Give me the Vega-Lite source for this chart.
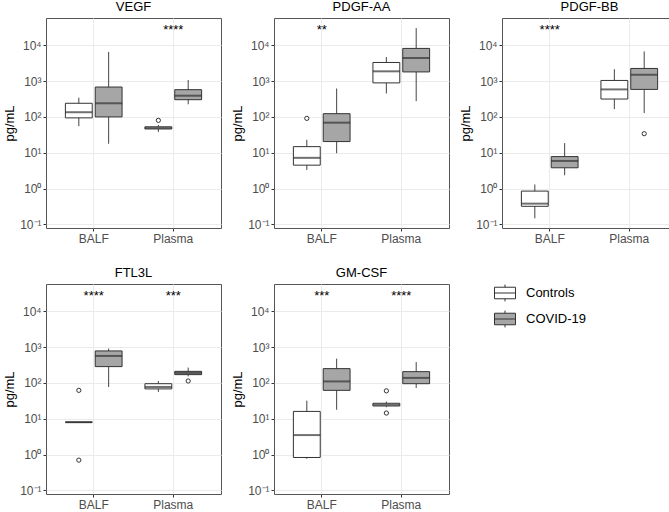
{
  "$schema": "https://vega.github.io/schema/vega-lite/v6.json",
  "padding": {"left": 3, "top": 0, "right": 1, "bottom": 2},
  "data": {"values": [
    {"kind":"box","panel":"VEGF","sample":"BALF","group":"Controls","lo":55,"q1":94,"med":135,"q3":240,"hi":344},
    {"kind":"box","panel":"VEGF","sample":"BALF","group":"COVID-19","lo":17.8,"q1":100,"med":240,"q3":681,"hi":6500},
    {"kind":"box","panel":"VEGF","sample":"Plasma","group":"Controls","lo":38,"q1":46,"med":49,"q3":53,"hi":60},
    {"kind":"box","panel":"VEGF","sample":"Plasma","group":"COVID-19","lo":225,"q1":302,"med":390,"q3":575,"hi":1070},
    {"kind":"out","panel":"VEGF","sample":"Plasma","group":"Controls","value":80},
    {"kind":"star","panel":"VEGF","sample":"Plasma","label":"****"},

    {"kind":"box","panel":"PDGF-AA","sample":"BALF","group":"Controls","lo":3.3,"q1":4.5,"med":7.2,"q3":14.8,"hi":23},
    {"kind":"box","panel":"PDGF-AA","sample":"BALF","group":"COVID-19","lo":9.7,"q1":20.5,"med":69,"q3":123,"hi":620},
    {"kind":"box","panel":"PDGF-AA","sample":"Plasma","group":"Controls","lo":450,"q1":890,"med":1870,"q3":3300,"hi":4700},
    {"kind":"box","panel":"PDGF-AA","sample":"Plasma","group":"COVID-19","lo":275,"q1":1800,"med":4400,"q3":8150,"hi":30000},
    {"kind":"out","panel":"PDGF-AA","sample":"BALF","group":"Controls","value":91},
    {"kind":"star","panel":"PDGF-AA","sample":"BALF","label":"**"},

    {"kind":"box","panel":"PDGF-BB","sample":"BALF","group":"Controls","lo":0.148,"q1":0.32,"med":0.38,"q3":0.85,"hi":1.3},
    {"kind":"box","panel":"PDGF-BB","sample":"BALF","group":"COVID-19","lo":2.35,"q1":3.8,"med":5.9,"q3":7.8,"hi":18.6},
    {"kind":"box","panel":"PDGF-BB","sample":"Plasma","group":"Controls","lo":165,"q1":315,"med":585,"q3":1040,"hi":2140},
    {"kind":"box","panel":"PDGF-BB","sample":"Plasma","group":"COVID-19","lo":128,"q1":585,"med":1500,"q3":2250,"hi":6700},
    {"kind":"out","panel":"PDGF-BB","sample":"Plasma","group":"COVID-19","value":34},
    {"kind":"star","panel":"PDGF-BB","sample":"BALF","label":"****"},

    {"kind":"box","panel":"FTL3L","sample":"BALF","group":"Controls","lo":8,"q1":8,"med":8,"q3":8,"hi":8},
    {"kind":"box","panel":"FTL3L","sample":"BALF","group":"COVID-19","lo":77,"q1":285,"med":565,"q3":780,"hi":910},
    {"kind":"box","panel":"FTL3L","sample":"Plasma","group":"Controls","lo":56,"q1":68,"med":77,"q3":95,"hi":113},
    {"kind":"box","panel":"FTL3L","sample":"Plasma","group":"COVID-19","lo":152,"q1":170,"med":190,"q3":210,"hi":267},
    {"kind":"out","panel":"FTL3L","sample":"BALF","group":"Controls","value":62},
    {"kind":"out","panel":"FTL3L","sample":"BALF","group":"Controls","value":0.7},
    {"kind":"out","panel":"FTL3L","sample":"Plasma","group":"COVID-19","value":113},
    {"kind":"star","panel":"FTL3L","sample":"BALF","label":"****"},
    {"kind":"star","panel":"FTL3L","sample":"Plasma","label":"***"},

    {"kind":"box","panel":"GM-CSF","sample":"BALF","group":"Controls","lo":0.76,"q1":0.83,"med":3.5,"q3":16,"hi":32},
    {"kind":"box","panel":"GM-CSF","sample":"BALF","group":"COVID-19","lo":17.8,"q1":62,"med":110,"q3":250,"hi":475},
    {"kind":"box","panel":"GM-CSF","sample":"Plasma","group":"Controls","lo":21,"q1":22.7,"med":24.5,"q3":27,"hi":30},
    {"kind":"box","panel":"GM-CSF","sample":"Plasma","group":"COVID-19","lo":72,"q1":95,"med":138,"q3":206,"hi":380},
    {"kind":"out","panel":"GM-CSF","sample":"Plasma","group":"Controls","value":60},
    {"kind":"out","panel":"GM-CSF","sample":"Plasma","group":"Controls","value":14.4},
    {"kind":"star","panel":"GM-CSF","sample":"BALF","label":"***"},
    {"kind":"star","panel":"GM-CSF","sample":"Plasma","label":"****"}
  ]},
  "facet": {"field": "panel", "type": "nominal", "sort": ["VEGF","PDGF-AA","PDGF-BB","FTL3L","GM-CSF"],
    "header": {"title": null, "labelFontSize": 13, "labelFontWeight": "normal", "labelColor": "#000000", "labelFont": "Liberation Sans", "labelPadding": 4}},
  "columns": 3,
  "spacing": {"column": 9, "row": 21},
  "resolve": {"axis": {"x": "independent", "y": "independent"}},
  "spec": {
    "width": 175,
    "height": 210,
    "encoding": {
      "x": {"field": "sample", "type": "nominal", "title": null,
        "scale": {"domain": ["BALF","Plasma"], "paddingInner": 0.25, "paddingOuter": 0.225},
        "axis": {"labelAngle": 0, "bandPosition": 0.5, "grid": true, "gridColor": "#EBEBEB", "domain": false, "tickColor": "#333333", "tickSize": 3, "labelColor": "#4D4D4D", "labelFontSize": 12, "labelPadding": 2}},
      "y": {"type": "quantitative"}
    },
    "layer": [
      {
        "transform": [{"filter": "datum.kind == 'box'"}],
        "mark": {"type": "rule", "color": "#444444", "strokeWidth": 1},
        "encoding": {
          "xOffset": {"field": "group", "type": "nominal", "scale": {"domain": ["Controls","COVID-19"], "paddingInner": 0.1, "paddingOuter": 0.05}},
          "y": {"field": "lo", "type": "quantitative", "title": "pg/mL",
            "scale": {"type": "log", "domain": [0.0794, 57500], "nice": false},
            "axis": {"values": [0.1, 1, 10, 100, 1000, 10000], "grid": true, "gridColor": "#EBEBEB", "domain": false, "tickColor": "#333333", "tickSize": 3, "labelColor": "#4D4D4D", "labelFontSize": 12, "labelPadding": 2, "titleFontWeight": "normal", "titleFontSize": 13, "titleColor": "#000000", "titlePadding": 3,
              "labelExpr": "datum.value < 0.5 ? '10⁻¹' : datum.value < 5 ? '10⁰' : datum.value < 50 ? '10¹' : datum.value < 500 ? '10²' : datum.value < 5000 ? '10³' : '10⁴'"}},
          "y2": {"field": "hi"}
        }
      },
      {
        "transform": [{"filter": "datum.kind == 'box'"}],
        "mark": {"type": "bar", "stroke": "#333333", "strokeWidth": 1},
        "encoding": {
          "xOffset": {"field": "group", "type": "nominal"},
          "y": {"field": "q1", "type": "quantitative"},
          "y2": {"field": "q3"},
          "fill": {"field": "group", "type": "nominal", "title": null,
            "scale": {"domain": ["Controls","COVID-19"], "range": ["#FFFFFF", "#A6A6A6"]},
            "legend": {"orient": "none", "legendX": 448, "legendY": 264, "symbolType": "M-1,-0.55H1V0.55H-1Z M-1,0H1 M0,-0.55V-0.8 M0,0.55V0.8", "symbolSize": 441, "symbolStrokeColor": "#333333", "symbolStrokeWidth": 1, "labelFontSize": 13, "labelColor": "#000000", "labelFont": "Liberation Sans", "rowPadding": 4, "labelOffset": 10}}
        }
      },
      {
        "transform": [{"filter": "datum.kind == 'box'"}],
        "mark": {"type": "tick", "color": "#333333", "thickness": 2, "size": 27, "orient": "horizontal"},
        "encoding": {
          "xOffset": {"field": "group", "type": "nominal"},
          "y": {"field": "med", "type": "quantitative"}
        }
      },
      {
        "transform": [{"filter": "datum.kind == 'out'"}],
        "mark": {"type": "point", "shape": "circle", "filled": false, "fill": "#FFFFFF", "stroke": "#333333", "strokeWidth": 1, "size": 18, "opacity": 1},
        "encoding": {
          "xOffset": {"field": "group", "type": "nominal"},
          "y": {"field": "value", "type": "quantitative"}
        }
      },
      {
        "transform": [{"filter": "datum.kind == 'star'"}],
        "mark": {"type": "text", "fontSize": 13, "color": "#000000", "baseline": "middle", "dy": 6, "font": "Liberation Sans"},
        "encoding": {
          "y": {"datum": 38000},
          "text": {"field": "label"}
        }
      }
    ]
  },
  "config": {
    "font": "Liberation Sans",
    "view": {"stroke": "#555555", "strokeWidth": 1},
    "axis": {"labelFont": "Liberation Sans", "titleFont": "Liberation Sans"}
  }
}
